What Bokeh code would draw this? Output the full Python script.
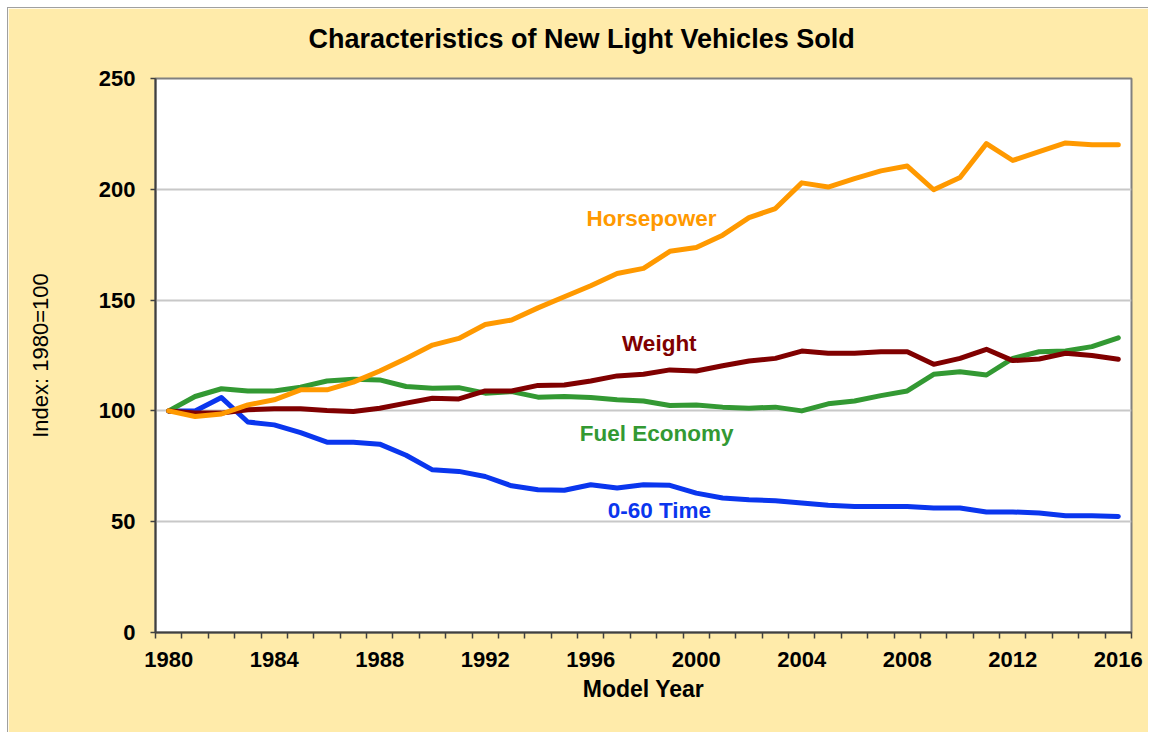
from bokeh.plotting import figure
from bokeh.models import Range1d, FixedTicker, Label, Title
from bokeh.embed import file_html
from bokeh.resources import INLINE

years = [1980, 1981, 1982, 1983, 1984, 1985, 1986, 1987, 1988, 1989,
         1990, 1991, 1992, 1993, 1994, 1995, 1996, 1997, 1998, 1999,
         2000, 2001, 2002, 2003, 2004, 2005, 2006, 2007, 2008, 2009,
         2010, 2011, 2012, 2013, 2014, 2015, 2016]

horsepower = [100, 97.5, 98.6, 102.7, 105, 109.5, 109.5, 113, 118, 123.7,
              129.7, 132.7, 139, 141, 146.5, 151.5, 156.5, 162, 164.3, 172,
              173.7, 179.3, 187.2, 191.3, 202.9, 201, 204.8, 208.3, 210.5, 199.8,
              205.3, 220.6, 213, 217, 220.9, 220.1, 220.1]

weight = [100, 99, 99, 100.5, 101, 101, 100.2, 99.7, 101.2, 103.5,
          105.7, 105.4, 109, 109, 111.5, 111.7, 113.5, 115.8, 116.5, 118.5,
          118, 120.4, 122.5, 123.7, 127, 126, 126, 126.7, 126.7, 121,
          123.7, 127.8, 122.7, 123.4, 126, 125, 123.3]

fuel_economy = [100, 106.5, 110, 109, 109, 110.7, 113.5, 114.3, 114, 111,
                110.2, 110.5, 108, 108.7, 106.2, 106.5, 106, 105, 104.5, 102.4,
                102.7, 101.7, 101.2, 101.7, 100, 103.2, 104.5, 106.9, 109, 116.5,
                117.7, 116.2, 123.7, 126.7, 127, 129, 133]

time_0_60 = [100, 100, 106, 95, 93.7, 90.2, 85.9, 85.9, 85, 80,
             73.4, 72.7, 70.4, 66.2, 64.4, 64.2, 66.7, 65.2, 66.7, 66.4,
             62.9, 60.7, 59.9, 59.5, 58.4, 57.4, 56.9, 56.9, 56.9, 56.2,
             56.2, 54.4, 54.4, 53.9, 52.7, 52.7, 52.4]

x_tick_labels = [1980, 1984, 1988, 1992, 1996, 2000, 2004, 2008, 2012, 2016]
y_ticks = [0, 50, 100, 150, 200, 250]

TITLE = "Characteristics of New Light Vehicles Sold"
FONT = "Liberation Sans"
BG = "#FFEBAA"

p = figure(width=1141, height=725, output_backend="svg", toolbar_location=None,
           x_range=Range1d(years[0] - 0.5, years[-1] + 0.5),
           y_range=Range1d(0, 250),
           background_fill_color="white", border_fill_color=BG,
           min_border_left=147, min_border_right=18,
           min_border_top=70, min_border_bottom=101)
p.styles = {"margin-left": "7px", "margin-top": "7px",
            "border-left": "1px solid #A0A0A0", "border-top": "1px solid #A0A0A0"}

p.title = Title(text=TITLE, align="left", offset=153, vertical_align="bottom",
                text_font=FONT, text_font_size="27px",
                text_font_style="bold", text_color="black", standoff=0)
# empty spacer between the title and the plot frame
p.add_layout(Title(text=" ", text_font_size="1px", standoff=22), "above")

p.outline_line_color = "#808080"
p.outline_line_width = 2

# x axis
xa = p.xaxis[0]
xa.ticker = FixedTicker(ticks=x_tick_labels,
                        minor_ticks=[y - 0.5 for y in years] + [years[-1] + 0.5])
xa.major_tick_line_color = None
xa.major_tick_out = 6
xa.major_tick_in = 0
xa.minor_tick_out = 6
xa.minor_tick_in = 0
xa.minor_tick_line_color = "#404040"
xa.minor_tick_line_width = 1.5
xa.axis_line_color = "#404040"
xa.axis_line_width = 2
xa.major_label_text_font = FONT
xa.major_label_text_font_size = "22px"
xa.major_label_text_font_style = "bold"
xa.major_label_text_color = "black"
xa.major_label_standoff = 13
xa.axis_label = "Model Year"
xa.axis_label_text_font = FONT
xa.axis_label_text_font_size = "23px"
xa.axis_label_text_font_style = "bold"
xa.axis_label_text_color = "black"
xa.axis_label_standoff = 6

# y axis
ya = p.yaxis[0]
ya.ticker = FixedTicker(ticks=y_ticks, minor_ticks=[])
ya.major_tick_out = 5
ya.major_tick_in = 0
ya.major_tick_line_color = "#404040"
ya.major_tick_line_width = 1.5
ya.axis_line_color = "#404040"
ya.axis_line_width = 2
ya.major_label_text_font = FONT
ya.major_label_text_font_size = "22px"
ya.major_label_text_font_style = "bold"
ya.major_label_text_color = "black"
ya.major_label_standoff = 15
ya.axis_label = "Index: 1980=100"
ya.axis_label_text_font = FONT
ya.axis_label_text_font_size = "22px"
ya.axis_label_text_font_style = "normal"
ya.axis_label_text_color = "black"
ya.axis_label_standoff = 43

p.xgrid.grid_line_color = None
p.ygrid.ticker = FixedTicker(ticks=y_ticks)
p.ygrid.grid_line_color = "#C8C8C8"
p.ygrid.grid_line_width = 2

series = [
    (time_0_60, "#0A36EE", "0-60 Time", 1998.6, 55),
    (fuel_economy, "#339933", "Fuel Economy", 1998.5, 90),
    (weight, "#800000", "Weight", 1998.6, 130.6),
    (horsepower, "#FF9900", "Horsepower", 1998.3, 187),
]
for vals, color, name, lx, ly in series:
    p.line(years, vals, line_color=color, line_width=5, line_join="round",
           line_cap="round")
    p.add_layout(Label(x=lx, y=ly, text=name, text_color=color,
                       text_font=FONT, text_font_size="22.5px",
                       text_font_style="bold", text_align="center",
                       text_baseline="middle"))

open("out.html", "w").write(file_html(p, INLINE))
